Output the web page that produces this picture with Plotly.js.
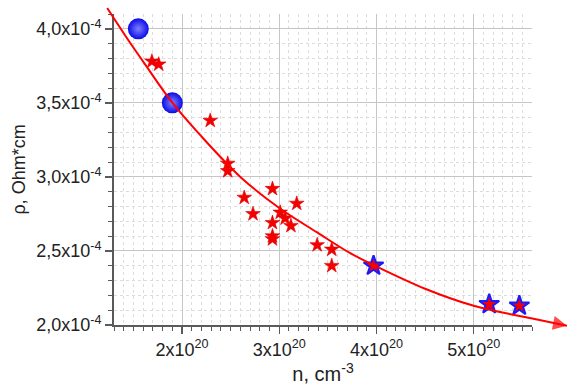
<!DOCTYPE html>
<html>
<head>
<meta charset="utf-8">
<script src="https://cdn.plot.ly/plotly-3.0.1.min.js"></script>
<style>html,body{margin:0;padding:0;background:#fff;}</style>
</head>
<body>
<div id="chart" style="width:567px;height:385px;"></div>
<script>
// ---- data (n in units of 1e20 cm^-3, rho in units of 1e-4 Ohm*cm) ----
const starN   = [1.69, 1.76, 2.29, 2.47, 2.47, 2.64, 2.73, 2.93, 3.18, 3.01, 3.06, 2.93, 3.12, 2.93, 2.93, 3.39, 3.54, 3.54];
const starRho = [3.78, 3.76, 3.38, 3.09, 3.04, 2.86, 2.75, 2.92, 2.82, 2.76, 2.72, 2.69, 2.67, 2.60, 2.58, 2.54, 2.51, 2.40];

const bigStarN   = [3.97, 5.16, 5.47];
const bigStarRho = [2.40, 2.14, 2.13];

const sphereN   = [1.55, 1.90];
const sphereRho = [4.00, 3.50];

const fitN   = [1.23, 1.42, 1.62, 1.89, 2.19, 2.60, 3.00, 3.39, 3.73, 4.00, 4.50, 5.00, 5.59, 5.96];
const fitRho = [4.14, 3.95, 3.76, 3.51, 3.28, 3.00, 2.79, 2.625, 2.485, 2.395, 2.245, 2.13, 2.045, 1.995];

const xTickVals = [2, 3, 4, 5];
const xTickText = ['2x10<sup>20</sup>', '3x10<sup>20</sup>', '4x10<sup>20</sup>', '5x10<sup>20</sup>'];
const yTickVals = [2.0, 2.5, 3.0, 3.5, 4.0];
const yTickText = ['2,0x10<sup>-4</sup>', '2,5x10<sup>-4</sup>', '3,0x10<sup>-4</sup>', '3,5x10<sup>-4</sup>', '4,0x10<sup>-4</sup>'];

const xRange = [1.3, 5.6];
const yRange = [2.0, 4.1];

// ---- layout geometry (pixels) ----
const W = 567, H = 385;
const L = 114, R = 532, T = 14, B = 325;
const kx = (xRange[1] - xRange[0]) / (R - L);
const ky = (yRange[1] - yRange[0]) / (B - T);
const x2Range = [xRange[0] - L * kx, xRange[1] + (W - R) * kx];
const y2Range = [yRange[0] - (H - B) * ky, yRange[1] + T * ky];

const font = 'Liberation Sans, Arial, sans-serif';
const axisCol = '#5a5a5a';

const fitSymbols = fitN.map((_, i) => i === fitN.length - 1 ? 'arrow-up' : 'circle');
const fitSizes = fitN.map((_, i) => i === fitN.length - 1 ? 14 : 0);

const traces = [
  {
    x: sphereN, y: sphereRho, type: 'scatter', mode: 'markers', xaxis: 'x', yaxis: 'y',
    marker: {symbol: 'circle', size: 21, color: '#0a0ae8',
             gradient: {type: 'radial', color: '#8080ff'}, line: {width: 0}},
    cliponaxis: false, hoverinfo: 'x+y'
  },
  {
    x: starN, y: starRho, type: 'scatter', mode: 'markers', xaxis: 'x', yaxis: 'y',
    marker: {symbol: 'star', size: 11, color: '#f50000', line: {width: 0.6, color: '#dd0000'}},
    cliponaxis: false
  },
  {
    x: bigStarN, y: bigStarRho, type: 'scatter', mode: 'markers', xaxis: 'x', yaxis: 'y',
    marker: {symbol: 'star', size: 15, color: '#f50000', line: {width: 2, color: '#1a1aff'}},
    cliponaxis: false
  },
  {
    x: fitN, y: fitRho, type: 'scatter', mode: 'lines+markers', xaxis: 'x2', yaxis: 'y2',
    line: {color: '#ff0000', width: 2, shape: 'spline', smoothing: 1},
    marker: {symbol: fitSymbols, size: fitSizes, color: '#ff0000', angleref: 'previous', line: {width: 0}},
    cliponaxis: false
  }
];

const layout = {
  width: W, height: H, autosize: false,
  margin: {l: 0, r: 0, t: 0, b: 0, pad: 0},
  paper_bgcolor: '#ffffff', plot_bgcolor: 'rgba(0,0,0,0)',
  showlegend: false,
  font: {family: font, size: 18, color: '#222222'},
  xaxis: {
    domain: [L / W, R / W], range: xRange, anchor: 'y',
    tickmode: 'array', tickvals: xTickVals, ticktext: xTickText,
    ticks: 'outside', ticklen: 7, tickwidth: 1.5, tickcolor: axisCol,
    showline: true, linecolor: axisCol, linewidth: 2, mirror: false,
    showgrid: true, gridcolor: '#c6c6c6', gridwidth: 1, zeroline: false,
    tickfont: {family: font, size: 18, color: '#222222'},
    minor: {tickmode: 'linear', tick0: 0, dtick: 0.1, ticks: 'outside', ticklen: 4, tickwidth: 1, tickcolor: axisCol,
            showgrid: true, gridcolor: '#dcdcdc', gridwidth: 1, griddash: 'dot'},
    title: {text: 'n, cm<sup>-3</sup>', font: {family: font, size: 20, color: '#222222'}, standoff: 8}
  },
  yaxis: {
    domain: [1 - B / H, 1 - T / H], range: yRange, anchor: 'x',
    tickmode: 'array', tickvals: yTickVals, ticktext: yTickText,
    ticks: 'outside', ticklen: 7, tickwidth: 1.5, tickcolor: axisCol,
    showline: true, linecolor: axisCol, linewidth: 2, mirror: false,
    showgrid: true, gridcolor: '#c6c6c6', gridwidth: 1, zeroline: false,
    tickfont: {family: font, size: 18, color: '#222222'},
    minor: {tickmode: 'linear', tick0: 0, dtick: 0.1, ticks: 'outside', ticklen: 4, tickwidth: 1, tickcolor: axisCol,
            showgrid: true, gridcolor: '#dcdcdc', gridwidth: 1, griddash: 'dot'},
    title: {text: 'ρ, Ohm*cm', font: {family: font, size: 18, color: '#222222'}, standoff: 6}
  },
  xaxis2: {domain: [0, 1], range: x2Range, anchor: 'y2', visible: false, fixedrange: true},
  yaxis2: {domain: [0, 1], range: y2Range, anchor: 'x2', visible: false, fixedrange: true}
};

Plotly.newPlot('chart', traces, layout, {staticPlot: true, displayModeBar: false});
</script>
</body>
</html>
